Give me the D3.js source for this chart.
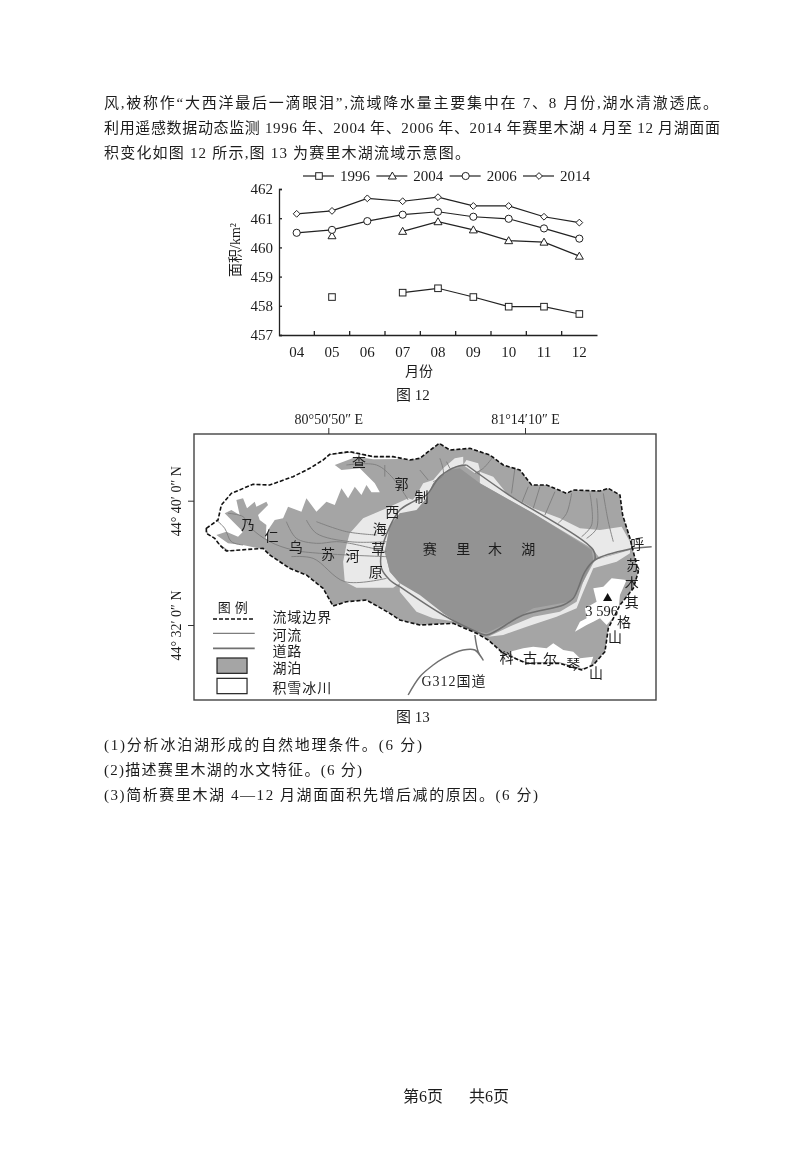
<!DOCTYPE html>
<html>
<head>
<meta charset="utf-8">
<style>
html, body { margin: 0; padding: 0; background: #fff; }
svg { display: block; filter: blur(0.45px); }
text { font-family: "Liberation Serif", "Noto Sans CJK SC", serif; fill: #1c1c1c; }
</style>
<script src="https://cdn.jsdelivr.net/npm/d3@7"></script>
</head>
<body>
<svg id="page" width="800" height="1156"></svg>
<script>
// chart values, figure 12
var months = ["04", "05", "06", "07", "08", "09", "10", "11", "12"];
var years = ["1996", "2004", "2006", "2014"];
var area1996 = [null, 458.3, null, 458.45, 458.6, 458.3, 457.97, 457.97, 457.72];
var area2004 = [null, 460.4, null, 460.55, 460.88, 460.6, 460.23, 460.18, 459.7];
var area2006 = [460.5, 460.6, 460.9, 461.12, 461.22, 461.05, 460.98, 460.65, 460.3];
var area2014 = [461.15, 461.25, 461.68, 461.58, 461.72, 461.42, 461.42, 461.05, 460.85];
var yTicks = [457, 458, 459, 460, 461, 462];

// page text
var bodyLines = [
    ["风,被称作“大西洋最后一滴眼泪”,流域降水量主要集中在 7、8 月份,湖水清澈透底。", 104, 614, 108],
    ["利用遥感数据动态监测 1996 年、2004 年、2006 年、2014 年赛里木湖 4 月至 12 月湖面面", 104, 616, 133],
    ["积变化如图 12 所示,图 13 为赛里木湖流域示意图。", 104, 366, 158],
    ["(1)分析冰泊湖形成的自然地理条件。(6 分)", 104, 318, 750],
    ["(2)描述赛里木湖的水文特征。(6 分)", 104, 258, 775],
    ["(3)简析赛里木湖 4—12 月湖面面积先增后减的原因。(6 分)", 104, 434, 800]
];

// figure 13, traced outlines on a digitising grid (frame is 103..1488 by 87..885)
var basinOutline = [[140,370],[175,345],[185,300],[215,265],[280,238],[330,240],[400,215],[450,190],[490,165],[510,148],[570,140],[640,155],[700,155],[750,165],[780,160],[805,140],[838,115],[870,135],[930,130],[990,150],[1030,180],[1080,195],[1115,240],[1160,240],[1220,265],[1240,255],[1320,258],[1345,250],[1380,270],[1388,330],[1410,400],[1420,440],[1435,500],[1420,550],[1380,600],[1345,670],[1335,740],[1300,780],[1265,795],[1200,775],[1100,775],[1030,745],[985,705],[950,685],[880,655],[780,660],[720,645],[690,625],[620,585],[560,590],[520,603],[490,550],[440,510],[390,490],[330,450],[310,430],[200,438],[180,420],[165,400],[140,385]];
var lakeOutline = [[900,190],[960,235],[1040,280],[1120,325],[1200,375],[1295,435],[1300,465],[1270,530],[1230,590],[1120,610],[1070,640],[980,685],[920,670],[850,625],[780,570],[720,535],[690,500],[675,440],[690,365],[720,325],[770,315],[800,280],[820,235],[870,195]];
var snowAreas = [
    [[205,435],[180,418],[165,400],[145,385],[140,370],[175,345],[185,300],[215,265],[280,238],[330,240],[400,215],[450,190],[490,165],[510,150],[570,143],[640,157],[700,157],[730,162],[640,163],[590,155],[525,180],[545,195],[600,190],[645,235],[660,262],[635,262],[620,240],[605,270],[585,245],[565,280],[545,250],[525,300],[500,290],[470,320],[440,280],[425,320],[385,305],[370,340],[345,345],[325,375],[320,435]],
    [[1245,680],[1260,650],[1280,640],[1275,610],[1310,590],[1300,550],[1330,545],[1355,520],[1400,525],[1380,570],[1375,620],[1340,660],[1320,640],[1300,650],[1280,660]],
    [[1050,740],[1090,730],[1120,725],[1160,730],[1180,715],[1210,735],[1240,740],[1260,760],[1300,755],[1290,785],[1265,790],[1200,772],[1100,772],[1060,755]]
];
var westFingers = [[320,435],[250,420],[205,415],[170,390],[200,380],[235,395],[250,380],[195,325],[215,315],[240,330],[230,285],[250,280],[262,310],[285,290],[290,305],[320,290],[325,300],[295,330],[300,345],[320,360],[318,400],[340,420]];
var grassAreas = [
    [[570,385],[610,340],[680,310],[745,280],[790,295],[800,290],[770,320],[720,325],[690,360],[675,440],[690,500],[720,535],[700,548],[590,548],[555,530],[550,470],[560,420]],
    [[720,530],[770,530],[810,570],[850,625],[890,650],[820,640],[770,620],[745,590],[720,560]],
    [[770,270],[790,235],[820,225],[850,190],[885,160],[910,155],[910,178],[870,190],[820,235],[800,280],[790,310],[760,325],[720,335]],
    [[920,165],[955,175],[960,195],[945,205],[910,180]],
    [[960,200],[1000,215],[1040,265],[1120,310],[1200,340],[1260,370],[1320,375],[1385,365],[1410,410],[1415,430],[1320,460],[1295,430],[1120,325],[960,235]],
    [[1410,435],[1305,465],[1270,530],[1250,590],[1200,620],[1120,635],[1060,660],[985,695],[1030,690],[1100,665],[1190,635],[1250,610],[1270,560],[1300,490],[1370,470],[1410,445]]
];
var rivers = [
    [[205,325],[250,335],[275,370],[330,410],[400,435],[480,445],[680,455]],
    [[170,345],[195,370],[215,410],[250,420]],
    [[395,455],[460,460],[555,530],[680,520]],
    [[380,350],[410,400],[470,415],[530,410],[570,415],[680,440]],
    [[440,345],[470,385],[570,410],[680,410]],
    [[470,350],[560,380],[650,390]],
    [[560,180],[650,180],[700,220],[745,285]],
    [[675,180],[675,215]],
    [[840,160],[850,210],[820,230]],
    [[860,170],[870,190]],
    [[780,195],[805,225]],
    [[1000,155],[970,190],[945,205]],
    [[1065,190],[1055,265]],
    [[1105,245],[1085,295]],
    [[1140,245],[1120,310]],
    [[1185,260],[1155,330]],
    [[1235,265],[1220,325],[1195,355]],
    [[1290,265],[1295,360],[1265,395]],
    [[1310,280],[1310,370],[1280,400]],
    [[1330,265],[1345,350],[1360,410]]
];
var roads = [
    [[720,545],[850,630],[950,680],[980,690],[1090,630],[1210,600],[1240,580],[1275,500],[1305,465],[1410,432],[1475,425]],
    [[920,180],[1040,265],[1300,435],[1305,465]],
    [[920,180],[890,185],[840,215],[800,270],[760,290],[720,315],[690,365],[665,440],[665,490],[690,525],[720,545]],
    [[945,690],[955,740],[970,765],[945,735],[910,735],[850,760],[820,780],[780,815],[745,870]]
];
var mapLabels = [
    ["查",598,172],["郭",725,237],["制",785,275],["西",697,322],["海",660,372],["草",655,432],["原",648,502],
    ["乃",265,360],["仁",335,392],["乌",408,425],["苏",505,448],["河",578,452],
    ["赛",810,433],["里",910,433],["木",1005,433],["湖",1105,433],
    ["呼",1432,418],["苏",1420,480],["木",1415,535],["其",1415,592],["格",1392,652],["山",1365,697],
    ["科",1040,758],["古",1110,760],["尔",1170,762],["琴",1240,778],["山",1308,803]
];
var legendLabels = ["流域边界", "河流", "道路", "湖泊", "积雪冰川"];

var svg = d3.select("#page");

// body text, stretched to the measured line widths
svg.selectAll("text.body")
    .data(bodyLines)
    .enter().append("text")
    .attr("class", "body")
    .attr("x", function (d) { return d[1]; })
    .attr("y", function (d) { return d[3]; })
    .attr("textLength", function (d) { return d[2]; })
    .attr("lengthAdjust", "spacing")
    .style("font-size", "15px")
    .text(function (d) { return d[0]; });

function caption(text, x, y, size) {
    return svg.append("text")
        .attr("x", x).attr("y", y)
        .attr("text-anchor", "middle")
        .style("font-size", (size || 15) + "px")
        .text(text);
}
caption("图 12", 413, 400);
caption("图 13", 413, 722);
caption("第6页", 423, 1102, 16);
caption("共6页", 489, 1102, 16);

// ---- figure 12 ----
var x = d3.scaleBand().domain(months).range([279, 597]);
var y = d3.scaleLinear().domain([457, 462]).range([335, 189]);
var chart = svg.append("g");

var yAxis = d3.axisLeft(y).tickValues(yTicks).tickSize(-3).tickPadding(6).tickFormat(d3.format("d"));
var xAxis = d3.axisBottom(x).tickSize(0).tickPadding(11);
var gy = chart.append("g").attr("transform", "translate(279,0)").call(yAxis);
var gx = chart.append("g").attr("transform", "translate(0,335)").call(xAxis);
[gx, gy].forEach(function (g) {
    g.selectAll("text").style("font-size", "15px").style("font-family", null);
    g.selectAll("path,line").attr("stroke", "#222").attr("stroke-width", 1.3);
});
// x ticks sit between the months
chart.selectAll("line.sep")
    .data(months.slice(0, -1))
    .enter().append("line")
    .attr("class", "sep")
    .attr("x1", function (m) { return x(m) + x.bandwidth(); })
    .attr("x2", function (m) { return x(m) + x.bandwidth(); })
    .attr("y1", 335).attr("y2", 331)
    .attr("stroke", "#222").attr("stroke-width", 1.3);

chart.append("text")
    .attr("transform", "translate(240,250) rotate(-90)")
    .attr("text-anchor", "middle")
    .style("font-size", "14px")
    .text("面积/km²");
chart.append("text")
    .attr("x", 419).attr("y", 376)
    .attr("text-anchor", "middle")
    .style("font-size", "14px")
    .text("月份");

var seriesValues = [area1996, area2004, area2006, area2014];
var line = d3.line()
    .defined(function (d) { return d != null; })
    .x(function (d, i) { return x(months[i]) + x.bandwidth() / 2; })
    .y(function (d) { return y(d); });

function marker(sel, yearIdx) {
    var m;
    if (yearIdx === 0) {
        m = sel.append("rect").attr("x", -3.3).attr("y", -3.3).attr("width", 6.6).attr("height", 6.6);
    } else if (yearIdx === 1) {
        m = sel.append("path").attr("d", "M0,-4L4,3L-4,3Z");
    } else if (yearIdx === 2) {
        m = sel.append("circle").attr("r", 3.6);
    } else {
        m = sel.append("path").attr("d", "M0,-3.4L3.4,0L0,3.4L-3.4,0Z");
    }
    m.attr("fill", "#fff").attr("stroke", "#222").attr("stroke-width", 1);
}

seriesValues.forEach(function (vals, k) {
    chart.append("path")
        .attr("d", line(vals))
        .attr("fill", "none")
        .attr("stroke", "#222")
        .attr("stroke-width", 1.2);
    vals.forEach(function (v, i) {
        if (v == null) return;
        var g = chart.append("g")
            .attr("transform", "translate(" + (x(months[i]) + x.bandwidth() / 2) + "," + y(v) + ")");
        marker(g, k);
    });
});

// legend
var legendX = d3.scalePoint().domain(years).range([319, 539]);
years.forEach(function (yr, k) {
    var cx = legendX(yr);
    chart.append("line")
        .attr("x1", cx - 16).attr("x2", cx + 15)
        .attr("y1", 176).attr("y2", 176)
        .attr("stroke", "#222").attr("stroke-width", 1.2);
    var g = chart.append("g").attr("transform", "translate(" + cx + ",176)");
    marker(g, k);
    chart.append("text")
        .attr("x", cx + 21).attr("y", 181)
        .style("font-size", "15px")
        .text(yr);
});

// ---- figure 13 ----
var mapX = d3.scaleLinear().domain([103, 1488]).range([194, 656]);
var mapY = d3.scaleLinear().domain([87, 885]).range([434, 700]);
var map = svg.append("g");

var ring = d3.line().x(function (d) { return mapX(d[0]); }).y(function (d) { return mapY(d[1]); }).curve(d3.curveLinearClosed);
var open = d3.line().x(function (d) { return mapX(d[0]); }).y(function (d) { return mapY(d[1]); }).curve(d3.curveCatmullRom);

var COL_BASIN = "#a5a5a5", COL_LAKE = "#939393", COL_GRASS = "#e9e9e9", COL_RIVER = "#7d7d7d", COL_ROAD = "#707070";

map.append("path").attr("d", ring(basinOutline)).attr("fill", COL_BASIN);
map.selectAll("path.snow").data(snowAreas).enter().append("path")
    .attr("class", "snow").attr("d", ring).attr("fill", "#fff");
map.append("path").attr("d", ring(westFingers)).attr("fill", COL_BASIN);
map.selectAll("path.grass").data(grassAreas).enter().append("path")
    .attr("class", "grass").attr("d", ring).attr("fill", COL_GRASS);
map.append("path").attr("d", ring(lakeOutline)).attr("fill", COL_LAKE);
map.selectAll("path.river").data(rivers).enter().append("path")
    .attr("class", "river").attr("d", open).attr("fill", "none")
    .attr("stroke", COL_RIVER).attr("stroke-width", 0.9);
map.selectAll("path.road").data(roads).enter().append("path")
    .attr("class", "road").attr("d", open).attr("fill", "none")
    .attr("stroke", COL_ROAD).attr("stroke-width", 1.5);
map.append("path").attr("d", ring(basinOutline))
    .attr("fill", "none").attr("stroke", "#111")
    .attr("stroke-width", 1.6).attr("stroke-dasharray", "4,2");

map.append("rect")
    .attr("x", mapX(103)).attr("y", mapY(87))
    .attr("width", mapX(1488) - mapX(103)).attr("height", mapY(885) - mapY(87))
    .attr("fill", "none").attr("stroke", "#444").attr("stroke-width", 1.4);

map.selectAll("text.place").data(mapLabels).enter().append("text")
    .attr("class", "place")
    .attr("x", function (d) { return mapX(d[1]); })
    .attr("y", function (d) { return mapY(d[2]) + 5; })
    .attr("text-anchor", "middle")
    .style("font-size", "14px")
    .text(function (d) { return d[0]; });

map.append("text").attr("x", mapX(1325)).attr("y", mapY(618) + 5)
    .attr("text-anchor", "middle").style("font-size", "14.5px").text("3 596");
map.append("path")
    .attr("transform", "translate(" + mapX(1343) + "," + mapY(580) + ")")
    .attr("d", d3.symbol().type(d3.symbolTriangle).size(36)).attr("fill", "#111");
map.append("text").attr("x", mapX(785)).attr("y", mapY(828) + 5)
    .style("font-size", "14px").style("letter-spacing", "1px").text("G312国道");

// graticule ticks, values in degrees
var lonScale = d3.scaleLinear().domain([80 + 50 / 60 + 50 / 3600, 81 + 14 / 60 + 10 / 3600]).range([328.3, 525]);
var latScale = d3.scaleLinear().domain([44 + 40 / 60, 44 + 32 / 60]).range([500.7, 625]);
var lonTicks = [80 + 50 / 60 + 50 / 3600, 81 + 14 / 60 + 10 / 3600];
var latTicks = [44 + 40 / 60, 44 + 32 / 60];

function dms(v) {
    var total = Math.round(v * 3600);
    return Math.floor(total / 3600) + "° " + Math.floor(total % 3600 / 60) + "′ " + (total % 60) + "″";
}
var gLon = map.append("g").attr("transform", "translate(0,434)")
    .call(d3.axisTop(lonScale).tickValues(lonTicks).tickSize(6).tickPadding(4)
        .tickFormat(function (d) { return dms(d).replace(/ /g, "") + " E"; }));
var gLat = map.append("g").attr("transform", "translate(194,0)")
    .call(d3.axisLeft(latScale).tickValues(latTicks).tickSize(6).tickPadding(5)
        .tickFormat(function (d) { return dms(d) + " N"; }));
gLon.select(".domain").remove();
gLat.select(".domain").remove();
gLon.selectAll("line").attr("stroke", "#333");
gLat.selectAll("line").attr("stroke", "#333");
gLon.selectAll("text").style("font-size", "14px").style("font-family", null);
gLat.selectAll("text")
    .style("font-size", "14px").style("font-family", null)
    .attr("text-anchor", "middle").attr("dy", 0)
    .attr("transform", "translate(-13,0) rotate(-90)").attr("x", 0).attr("y", 0);

// map legend
map.append("text").attr("x", mapX(225)).attr("y", mapY(605) + 5)
    .attr("text-anchor", "middle").style("font-size", "13px").style("letter-spacing", "4px").text("图例");
var legendRows = [642, 685, 730, 782, 843];
var legendTextRows = [637, 690, 738, 790, 850];
function legendLine(row, color, w, dash) {
    map.append("line")
        .attr("x1", mapX(160)).attr("x2", mapX(285))
        .attr("y1", mapY(row)).attr("y2", mapY(row))
        .attr("stroke", color).attr("stroke-width", w).attr("stroke-dasharray", dash);
}
legendLine(legendRows[0], "#111", 1.6, "4,2");
legendLine(legendRows[1], COL_RIVER, 1.3, null);
legendLine(legendRows[2], COL_ROAD, 1.6, null);
[[legendRows[3], COL_BASIN], [legendRows[4], "#fff"]].forEach(function (r) {
    map.append("rect")
        .attr("x", mapX(172)).attr("y", mapY(r[0] - 23))
        .attr("width", mapX(262) - mapX(172)).attr("height", mapY(r[0] + 23) - mapY(r[0] - 23))
        .attr("fill", r[1]).attr("stroke", "#222").attr("stroke-width", 1.2);
});
map.selectAll("text.leg").data(legendLabels).enter().append("text")
    .attr("class", "leg")
    .attr("x", mapX(338))
    .attr("y", function (d, i) { return mapY(legendTextRows[i]) + 5; })
    .style("font-size", "14px")
    .style("letter-spacing", "1px")
    .text(function (d) { return d; });
</script>
</body>
</html>
